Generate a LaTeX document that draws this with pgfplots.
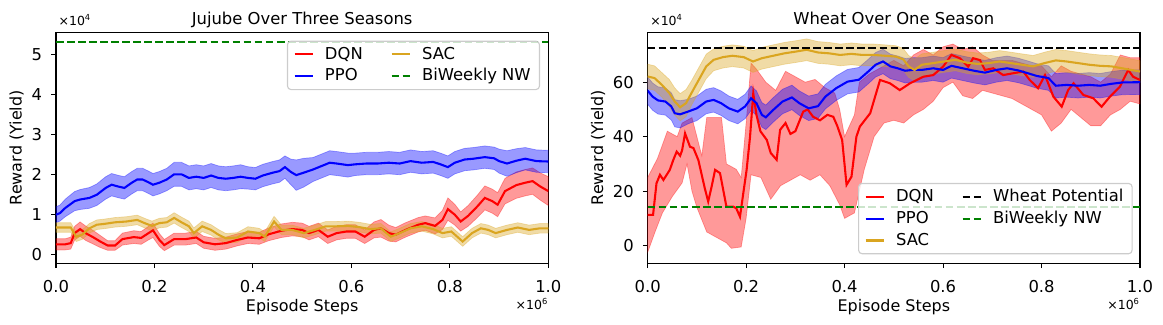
\documentclass[border=0pt]{standalone}
\usepackage{pgfplots}
\pgfplotsset{compat=1.18}
\usepgfplotslibrary{fillbetween}
\usepackage{pgfplotstable}
\usepackage{fontspec}
\setmainfont{DejaVu Sans}
\definecolor{sacc}{HTML}{DAA520}
\definecolor{mgreen}{rgb}{0,0.5,0}
\definecolor{legedge}{gray}{0.8}

% ---------------- Jujube (left), values in 1e4, x in 1e6 ----------------
\pgfplotstableread{
x m w
0.000 0.99 0.20
0.008 1.03 0.20
0.019 1.16 0.22
0.038 1.33 0.24
0.049 1.37 0.25
0.068 1.41 0.26
0.083 1.49 0.27
0.101 1.66 0.28
0.113 1.74 0.28
0.128 1.69 0.28
0.139 1.66 0.28
0.154 1.79 0.28
0.165 1.87 0.28
0.176 1.87 0.28
0.188 1.80 0.28
0.197 1.74 0.28
0.210 1.79 0.28
0.225 1.87 0.28
0.240 2.00 0.30
0.255 2.00 0.30
0.270 1.91 0.30
0.285 1.94 0.30
0.300 1.91 0.30
0.315 1.97 0.30
0.330 1.91 0.30
0.345 1.89 0.30
0.360 1.91 0.30
0.375 1.94 0.30
0.390 1.91 0.28
0.405 1.89 0.28
0.420 1.97 0.28
0.440 2.04 0.28
0.454 2.08 0.28
0.465 2.18 0.28
0.477 2.06 0.32
0.488 1.98 0.38
0.503 2.04 0.36
0.522 2.12 0.30
0.540 2.21 0.30
0.556 2.29 0.30
0.570 2.27 0.30
0.593 2.23 0.30
0.608 2.25 0.28
0.630 2.27 0.28
0.653 2.27 0.28
0.676 2.29 0.28
0.698 2.27 0.28
0.720 2.33 0.28
0.743 2.29 0.28
0.766 2.31 0.28
0.781 2.25 0.28
0.796 2.18 0.28
0.810 2.29 0.28
0.830 2.37 0.28
0.848 2.39 0.28
0.871 2.43 0.28
0.890 2.40 0.28
0.900 2.33 0.30
0.916 2.27 0.32
0.935 2.34 0.30
0.953 2.39 0.28
0.976 2.33 0.28
1.000 2.32 0.28
}\jppo

\pgfplotstableread{
x m w
0.000 0.25 0.14
0.019 0.25 0.14
0.030 0.28 0.15
0.038 0.53 0.17
0.049 0.63 0.18
0.060 0.53 0.18
0.075 0.43 0.17
0.090 0.32 0.15
0.105 0.22 0.12
0.120 0.22 0.12
0.135 0.38 0.15
0.158 0.43 0.16
0.173 0.41 0.16
0.188 0.53 0.17
0.197 0.60 0.18
0.210 0.36 0.16
0.220 0.23 0.14
0.240 0.38 0.15
0.263 0.38 0.15
0.285 0.42 0.15
0.300 0.30 0.15
0.323 0.25 0.15
0.345 0.28 0.15
0.368 0.36 0.15
0.390 0.42 0.15
0.413 0.40 0.15
0.432 0.50 0.16
0.458 0.59 0.17
0.480 0.63 0.17
0.500 0.61 0.17
0.514 0.53 0.17
0.533 0.61 0.17
0.552 0.44 0.17
0.570 0.53 0.17
0.590 0.57 0.17
0.608 0.57 0.17
0.627 0.44 0.17
0.646 0.61 0.20
0.660 0.65 0.22
0.676 0.53 0.20
0.690 0.49 0.18
0.710 0.61 0.18
0.736 0.74 0.18
0.750 0.78 0.18
0.770 0.71 0.20
0.785 0.86 0.24
0.796 1.13 0.28
0.810 0.99 0.26
0.822 0.82 0.24
0.837 0.96 0.26
0.856 1.20 0.28
0.871 1.41 0.30
0.886 1.33 0.30
0.897 1.24 0.30
0.912 1.58 0.32
0.935 1.73 0.33
0.953 1.79 0.33
0.968 1.83 0.33
0.983 1.70 0.34
1.000 1.58 0.36
}\jdqn

\pgfplotstableread{
x m w
0.000 0.67 0.12
0.030 0.67 0.12
0.041 0.44 0.12
0.053 0.49 0.12
0.068 0.65 0.12
0.083 0.74 0.12
0.098 0.76 0.12
0.120 0.80 0.12
0.143 0.82 0.12
0.165 0.86 0.12
0.180 0.78 0.12
0.195 0.71 0.12
0.210 0.78 0.12
0.225 0.80 0.12
0.240 0.91 0.13
0.255 0.80 0.13
0.270 0.70 0.13
0.280 0.53 0.13
0.297 0.70 0.13
0.315 0.61 0.13
0.330 0.49 0.13
0.345 0.40 0.12
0.368 0.42 0.12
0.390 0.57 0.12
0.413 0.53 0.12
0.424 0.44 0.12
0.443 0.82 0.13
0.458 0.61 0.12
0.480 0.61 0.12
0.503 0.53 0.12
0.526 0.61 0.12
0.548 0.70 0.12
0.570 0.70 0.12
0.593 0.71 0.12
0.616 0.68 0.12
0.638 0.63 0.12
0.660 0.65 0.12
0.680 0.44 0.12
0.698 0.53 0.12
0.720 0.65 0.12
0.743 0.70 0.12
0.766 0.63 0.12
0.785 0.53 0.12
0.803 0.57 0.12
0.826 0.32 0.12
0.845 0.53 0.12
0.863 0.65 0.12
0.878 0.61 0.12
0.893 0.53 0.12
0.916 0.61 0.12
0.938 0.67 0.12
0.961 0.61 0.12
0.983 0.65 0.12
1.000 0.65 0.12
}\jsac

% ---------------- Wheat (right) ----------------
\pgfplotstableread{
x m w
0.000 56.9 5.0
0.010 54.7 5.0
0.021 53.3 5.0
0.036 52.9 5.0
0.048 51.1 5.0
0.055 48.6 5.0
0.066 48.2 5.0
0.082 49.2 4.5
0.100 50.4 4.5
0.119 52.9 4.5
0.134 53.5 4.5
0.149 52.3 4.5
0.165 50.4 4.5
0.183 49.2 4.5
0.198 51.1 4.5
0.210 54.1 4.5
0.221 52.3 4.5
0.232 48.0 4.5
0.240 47.1 4.5
0.255 49.8 4.5
0.274 52.9 4.5
0.293 54.4 4.5
0.308 52.3 4.5
0.327 50.4 4.5
0.346 51.2 4.5
0.361 54.7 4.5
0.383 57.8 4.5
0.406 60.2 4.5
0.429 60.9 4.5
0.448 63.9 4.5
0.463 66.4 4.5
0.478 67.6 4.5
0.493 65.8 4.5
0.508 65.1 4.5
0.523 64.2 4.5
0.538 64.5 4.5
0.557 64.5 4.5
0.580 65.1 4.5
0.600 64.5 4.5
0.617 66.0 4.5
0.640 65.1 4.5
0.663 64.2 4.5
0.685 63.5 4.5
0.708 64.5 4.5
0.730 65.1 4.5
0.753 64.3 4.5
0.772 63.3 4.5
0.790 62.3 4.5
0.814 61.5 4.5
0.829 58.7 4.5
0.851 59.0 4.5
0.874 58.7 4.5
0.897 59.0 4.5
0.919 58.7 4.5
0.942 59.4 4.5
0.964 59.9 4.5
1.000 60.0 4.5
}\wppo

\pgfplotstableread{
x m w
0.000 62.1 4.5
0.014 61.5 4.5
0.029 59.0 4.5
0.044 56.0 5.0
0.055 52.9 5.0
0.066 50.8 5.0
0.078 52.3 5.0
0.089 56.0 4.5
0.104 60.9 4.5
0.119 65.8 4.5
0.134 68.2 4.0
0.153 69.2 4.0
0.172 69.7 4.0
0.195 69.2 4.0
0.214 67.6 4.0
0.232 68.8 4.0
0.255 69.7 4.0
0.278 70.6 4.0
0.300 71.2 4.0
0.323 71.9 4.0
0.346 70.9 4.0
0.368 70.6 4.0
0.391 70.0 4.0
0.414 70.4 4.0
0.436 70.0 4.0
0.459 70.0 4.0
0.482 69.7 4.0
0.504 69.4 4.0
0.519 68.4 4.0
0.530 65.8 4.0
0.542 64.5 4.0
0.557 66.4 4.0
0.580 67.0 4.0
0.602 67.6 4.0
0.625 68.2 4.0
0.648 67.2 4.0
0.670 66.7 4.0
0.693 67.0 4.0
0.715 67.6 4.0
0.738 67.0 4.0
0.760 66.4 4.0
0.783 65.8 4.0
0.806 67.0 4.0
0.829 68.0 4.0
0.851 67.6 4.0
0.874 67.0 4.0
0.897 66.4 4.0
0.919 66.0 4.0
0.942 65.8 4.0
0.964 65.1 4.0
1.000 63.9 4.0
}\wsac

\pgfplotstableread{
x m
0.000 11.3
0.011 11.3
0.018 22.9
0.025 26.0
0.032 24.1
0.045 27.8
0.052 31.4
0.059 34.5
0.066 33.0
0.070 35.0
0.076 41.2
0.086 36.3
0.093 35.8
0.103 31.4
0.116 21.1
0.123 16.2
0.130 21.7
0.137 27.8
0.147 26.6
0.160 14.3
0.174 14.3
0.180 13.7
0.1875 10.6
0.201 27.8
0.208 40.0
0.2145 55.9
0.221 48.0
0.229 42.0
0.242 38.8
0.250 34.0
0.262 31.5
0.269 42.5
0.280 45.0
0.290 41.0
0.300 42.0
0.316 49.2
0.325 50.0
0.336 47.3
0.350 46.0
0.365 48.0
0.377 47.3
0.385 44.0
0.395 38.8
0.404 22.3
0.414 25.3
0.424 40.0
0.431 43.7
0.452 48.6
0.472 60.8
0.492 59.6
0.512 57.1
0.533 59.6
0.560 62.0
0.580 62.6
0.600 65.7
0.617 70.0
0.634 68.8
0.651 65.7
0.661 68.8
0.675 68.1
0.685 64.5
0.702 65.1
0.722 62.6
0.743 63.3
0.763 63.9
0.776 60.8
0.793 57.8
0.807 62.6
0.824 54.7
0.841 51.0
0.854 57.1
0.865 59.6
0.885 55.3
0.905 54.1
0.922 51.0
0.939 54.7
0.959 58.3
0.976 64.5
0.986 62.0
1.000 60.8
}\wdqn

\pgfplotstableread{
x y
0.000 -2.5
0.015 5.0
0.030 12.0
0.050 18.0
0.070 23.0
0.080 30.0
0.090 20.0
0.100 14.0
0.120 5.0
0.140 3.0
0.160 1.0
0.170 -1.0
0.190 -0.5
0.200 10.0
0.210 26.0
0.230 25.0
0.250 17.0
0.270 22.0
0.290 24.0
0.310 26.0
0.330 24.0
0.350 26.0
0.370 22.0
0.390 15.0
0.400 10.0
0.420 12.0
0.440 28.0
0.460 40.0
0.480 45.0
0.500 46.0
0.520 45.0
0.540 48.0
0.560 50.0
0.580 53.0
0.600 58.0
0.620 60.0
0.640 55.0
0.660 54.0
0.680 57.0
0.700 56.0
0.720 55.0
0.740 54.0
0.760 52.0
0.780 50.0
0.800 48.0
0.820 42.0
0.840 45.0
0.860 50.0
0.880 47.0
0.900 44.0
0.920 44.0
0.940 48.0
0.960 50.0
0.980 53.0
1.000 52.0
}\wdqnlo

\pgfplotstableread{
x y
0.000 25.0
0.020 32.0
0.040 42.0
0.060 40.0
0.070 45.0
0.090 47.0
0.100 40.0
0.110 33.0
0.120 47.0
0.150 47.0
0.160 30.0
0.180 28.0
0.190 25.0
0.200 45.0
0.210 67.0
0.220 65.0
0.240 60.0
0.260 57.0
0.280 64.0
0.300 62.0
0.320 60.0
0.340 61.0
0.360 58.0
0.380 56.0
0.390 50.0
0.400 40.0
0.420 48.0
0.430 60.0
0.450 63.0
0.470 65.0
0.500 68.0
0.520 66.0
0.540 70.0
0.560 72.0
0.580 70.0
0.600 73.0
0.620 74.0
0.640 72.0
0.660 73.0
0.680 70.0
0.700 68.0
0.720 68.0
0.740 68.0
0.760 67.0
0.780 66.0
0.800 66.0
0.820 62.0
0.840 66.0
0.860 64.0
0.880 63.0
0.900 62.0
0.920 60.0
0.940 63.0
0.960 70.0
0.980 69.0
1.000 69.0
}\wdqnhi

\tikzset{
  band/.style={draw=#1, draw opacity=0.35, line width=0.5pt, fill=#1, fill opacity=0.4},
  meanline/.style={draw=#1, line width=1.5pt},
  refline/.style={draw=#1, line width=1.5pt, dash pattern=on 5.55pt off 2.4pt},
}

\pgfplotsset{
  base/.style={
    scale only axis, width=354.5pt, height=166.3pt, anchor=south west,
    xmin=0, xmax=1, xtick={0,0.2,0.4,0.6,0.8,1},
    scaled x ticks=false, scaled y ticks=false,
    xticklabel style={/pgf/number format/.cd, fixed, fixed zerofill, precision=1},
    /pgf/number format/assume math mode=true,
    tick align=outside, tick pos=left,
    major tick length=3.5pt,
    every tick/.style={black, line width=0.8pt},
    axis line style={line width=0.8pt},
    tick label style={font=\fontsize{11.8}{14}\selectfont},
    xticklabel shift=5.5pt, yticklabel shift=3pt,
    xlabel={Episode Steps}, ylabel={Reward (Yield)},
    every axis x label/.style={at={(axis description cs:0.5,0)}, anchor=base, yshift=-34.5pt, font=\fontsize{11.5}{14}\selectfont},
    every axis y label/.style={at={(axis description cs:0,0.5)}, rotate=90, anchor=base, font=\fontsize{11.5}{14}\selectfont},
    every axis title/.style={at={(axis description cs:0.5,1)}, anchor=base, yshift=5.3pt, font=\fontsize{11.8}{14}\selectfont},
    legend cell align=left,
    legend columns=2,
    legend image code/.code={\draw[##1, line width=1.5pt] (0pt,0pt) -- (13.2pt,0pt);},
    legend style={font=\fontsize{11.8}{14}\selectfont, draw=legedge, line width=0.8pt,
      rounded corners=2.5pt, fill=white, fill opacity=0.8, text opacity=1,
      inner xsep=4.3pt, inner ysep=1.6pt, row sep=0pt,
      nodes={text height=9.2pt, text depth=2.6pt},
      /tikz/every odd column/.append style={column sep=6pt},
      /tikz/every even column/.append style={column sep=18pt}},
  }
}

\begin{document}
\begin{tikzpicture}

% ---------- Left ----------
\begin{axis}[base, at={(40.3pt,43.7pt)},
  ymin=-0.225, ymax=5.55, ytick={0,1,2,3,4,5},
  title={Jujube Over Three Seasons},
  ylabel style={yshift=24.7pt},
  legend style={at={(1,1)}, anchor=north east, xshift=-6pt, yshift=-6pt}]
  % DQN
  \addplot[name path=jdl, draw=none, forget plot] table[x=x, y expr=\thisrow{m}-\thisrow{w}]{\jdqn};
  \addplot[name path=jdh, draw=none, forget plot] table[x=x, y expr=\thisrow{m}+\thisrow{w}]{\jdqn};
  \addplot[band=red, forget plot] fill between[of=jdl and jdh];
  \addplot[meanline=red, forget plot] table[x=x, y=m]{\jdqn};
  % PPO
  \addplot[name path=jpl, draw=none, forget plot] table[x=x, y expr=\thisrow{m}-\thisrow{w}]{\jppo};
  \addplot[name path=jph, draw=none, forget plot] table[x=x, y expr=\thisrow{m}+\thisrow{w}]{\jppo};
  \addplot[band=blue, forget plot] fill between[of=jpl and jph];
  \addplot[meanline=blue, forget plot] table[x=x, y=m]{\jppo};
  % SAC
  \addplot[name path=jsl, draw=none, forget plot] table[x=x, y expr=\thisrow{m}-\thisrow{w}]{\jsac};
  \addplot[name path=jsh, draw=none, forget plot] table[x=x, y expr=\thisrow{m}+\thisrow{w}]{\jsac};
  \addplot[band=sacc, forget plot] fill between[of=jsl and jsh];
  \addplot[meanline=sacc, forget plot] table[x=x, y=m]{\jsac};
  % BiWeekly NW
  \addplot[refline=mgreen, forget plot] coordinates {(0,5.31) (1,5.31)};
  % legend (row-wise order)
  \addlegendimage{red}\addlegendentry{DQN}
  \addlegendimage{sacc}\addlegendentry{SAC}
  \addlegendimage{blue}\addlegendentry{PPO}
  \addlegendimage{mgreen, dash pattern=on 5.55pt off 2.4pt}\addlegendentry{BiWeekly NW}
\end{axis}
\node[anchor=base west, inner sep=0pt, font=\fontsize{9}{11}\selectfont] at (42pt,214.6pt) {×10\textsuperscript{4}};
\node[anchor=base east, inner sep=0pt, font=\fontsize{9}{11}\selectfont] at (394.8pt,10.5pt) {×10\textsuperscript{6}};

% ---------- Right ----------
\begin{axis}[base, at={(466.3pt,43.7pt)},
  ymin=-6.5, ymax=78.3, ytick={0,20,40,60},
  title={Wheat Over One Season},
  ylabel style={yshift=32pt},
  legend style={at={(1,0)}, anchor=south east, xshift=-5.3pt, yshift=6.5pt}]
  % DQN
  \addplot[name path=wdl, draw=none, forget plot] table[x=x, y=y]{\wdqnlo};
  \addplot[name path=wdh, draw=none, forget plot] table[x=x, y=y]{\wdqnhi};
  \addplot[band=red, forget plot] fill between[of=wdl and wdh];
  \addplot[meanline=red, forget plot] table[x=x, y=m]{\wdqn};
  % PPO
  \addplot[name path=wpl, draw=none, forget plot] table[x=x, y expr=\thisrow{m}-\thisrow{w}]{\wppo};
  \addplot[name path=wph, draw=none, forget plot] table[x=x, y expr=\thisrow{m}+\thisrow{w}]{\wppo};
  \addplot[band=blue, forget plot] fill between[of=wpl and wph];
  \addplot[meanline=blue, forget plot] table[x=x, y=m]{\wppo};
  % SAC
  \addplot[name path=wsl, draw=none, forget plot] table[x=x, y expr=\thisrow{m}-\thisrow{w}]{\wsac};
  \addplot[name path=wsh, draw=none, forget plot] table[x=x, y expr=\thisrow{m}+\thisrow{w}]{\wsac};
  \addplot[band=sacc, forget plot] fill between[of=wsl and wsh];
  \addplot[meanline=sacc, forget plot] table[x=x, y=m]{\wsac};
  % reference lines
  \addplot[refline=black, forget plot] coordinates {(0,72.5) (1,72.5)};
  \addplot[refline=mgreen, forget plot] coordinates {(0,14.3) (1,14.3)};
  % legend (row-wise order)
  \addlegendimage{red}\addlegendentry{DQN}
  \addlegendimage{black, dash pattern=on 5.55pt off 2.4pt}\addlegendentry{Wheat Potential}
  \addlegendimage{blue}\addlegendentry{PPO}
  \addlegendimage{mgreen, dash pattern=on 5.55pt off 2.4pt}\addlegendentry{BiWeekly NW}
  \addlegendimage{sacc}\addlegendentry{SAC}
\end{axis}
\node[anchor=base west, inner sep=0pt, font=\fontsize{9}{11}\selectfont] at (468pt,214.6pt) {×10\textsuperscript{4}};
\node[anchor=base east, inner sep=0pt, font=\fontsize{9}{11}\selectfont] at (820.8pt,10.5pt) {×10\textsuperscript{6}};
\path (0,0) rectangle (837.36pt,233.28pt);
\end{tikzpicture}
\end{document}
